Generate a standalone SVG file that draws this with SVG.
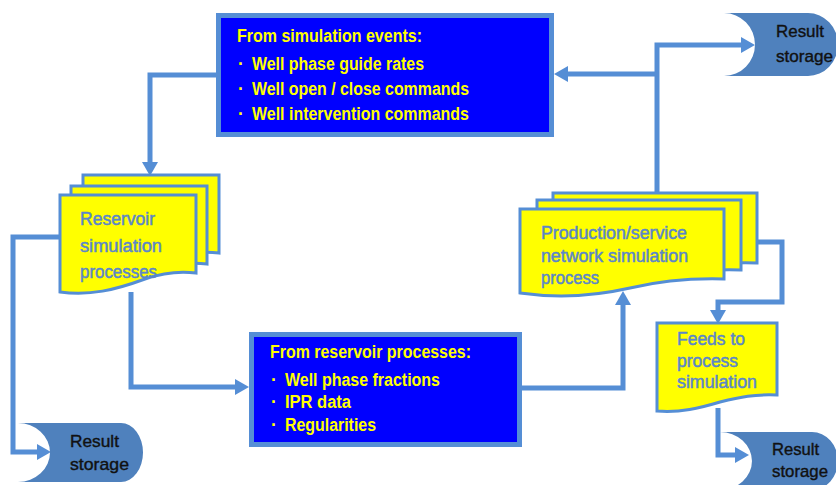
<svg xmlns="http://www.w3.org/2000/svg" width="836" height="485" viewBox="0 0 836 485">
<style>
.conn{fill:none;stroke:#558ED5;stroke-width:5;stroke-linejoin:miter}
.box{fill:#0000FF;stroke:#558ED5;stroke-width:5}
.doc{fill:#FFFF00;stroke:#558ED5;stroke-width:3}
.store{fill:#4F81BD}
.bt{font-family:"Liberation Sans Narrow","Liberation Sans",Arial,sans-serif;font-weight:bold;font-size:17.5px;fill:#FFFF00}
.dt{font-family:"Liberation Sans Narrow","Liberation Sans",Arial,sans-serif;font-size:18px;fill:#5B86C9;stroke:#5B86C9;stroke-width:0.5}
.st{font-family:"Liberation Sans Narrow","Liberation Sans",Arial,sans-serif;font-size:17px;fill:#111111;stroke:#111111;stroke-width:0.4}
</style>
<defs>
<marker id="ah" markerUnits="userSpaceOnUse" markerWidth="14" markerHeight="16" refX="0" refY="8" orient="auto" viewBox="0 0 14 16">
<path d="M0,0 L14,8 L0,16 Z" fill="#558ED5"/>
</marker>
</defs>
<g id="connectors">
<path class="conn" d="M216,75 H150 V162" marker-end="url(#ah)"/>
<path class="conn" d="M131,292 V387 H235" marker-end="url(#ah)"/>
<path class="conn" d="M60,237 H13 V452 H37" marker-end="url(#ah)"/>
<path class="conn" d="M522,388 H623 V305" marker-end="url(#ah)"/>
<path class="conn" d="M657,193 V45 H741" marker-end="url(#ah)"/>
<path class="conn" d="M657,74 H568" marker-end="url(#ah)"/>
<path class="conn" d="M757,242 H782 V302 H718 V310" marker-end="url(#ah)"/>
<path class="conn" d="M718,408 V455 H735" marker-end="url(#ah)"/>
</g>
<g id="sim-events">
<rect class="box" x="218.5" y="15.5" width="333" height="119"/>
<text class="bt" x="237" y="42" textLength="185" lengthAdjust="spacingAndGlyphs">From simulation events:</text>
<text class="bt" x="238" y="70">·</text>
<text class="bt" x="252" y="70" textLength="172" lengthAdjust="spacingAndGlyphs">Well phase guide rates</text>
<text class="bt" x="238" y="95">·</text>
<text class="bt" x="252" y="95" textLength="217" lengthAdjust="spacingAndGlyphs">Well open / close commands</text>
<text class="bt" x="238" y="120">·</text>
<text class="bt" x="252" y="120" textLength="217" lengthAdjust="spacingAndGlyphs">Well intervention commands</text>
</g>
<g id="reservoir-processes">
<rect class="box" x="251.5" y="334.5" width="268" height="110"/>
<text class="bt" x="270" y="358" textLength="201" lengthAdjust="spacingAndGlyphs">From reservoir processes:</text>
<text class="bt" x="271" y="386">·</text>
<text class="bt" x="285" y="386" textLength="155" lengthAdjust="spacingAndGlyphs">Well phase fractions</text>
<text class="bt" x="271" y="408">·</text>
<text class="bt" x="285" y="408" textLength="66" lengthAdjust="spacingAndGlyphs">IPR data</text>
<text class="bt" x="271" y="431">·</text>
<text class="bt" x="285" y="431" textLength="91" lengthAdjust="spacingAndGlyphs">Regularities</text>
</g>
<g id="reservoir-sim">
<path class="doc" transform="translate(23,-20)" d="M60,195 H196 V273 C180,271 165,272 145,279 C115,290 90,296 60,292 Z"/>
<path class="doc" transform="translate(11,-9)" d="M60,195 H196 V273 C180,271 165,272 145,279 C115,290 90,296 60,292 Z"/>
<path class="doc" d="M60,195 H196 V273 C180,271 165,272 145,279 C115,290 90,296 60,292 Z"/>
<text class="dt" x="80" y="225" textLength="75" lengthAdjust="spacingAndGlyphs">Reservoir</text>
<text class="dt" x="80" y="252" textLength="82" lengthAdjust="spacingAndGlyphs">simulation</text>
<text class="dt" x="80" y="278" textLength="77" lengthAdjust="spacingAndGlyphs">processes</text>
</g>
<g id="production-sim">
<path class="doc" transform="translate(33,-16)" d="M520,209 H724 V279 C690,278 660,281 630,288 C595,296 555,298 520,293 Z"/>
<path class="doc" transform="translate(17,-9)" d="M520,209 H724 V279 C690,278 660,281 630,288 C595,296 555,298 520,293 Z"/>
<path class="doc" d="M520,209 H724 V279 C690,278 660,281 630,288 C595,296 555,298 520,293 Z"/>
<text class="dt" x="541" y="239" textLength="146" lengthAdjust="spacingAndGlyphs">Production/service</text>
<text class="dt" x="541" y="262" textLength="147" lengthAdjust="spacingAndGlyphs">network simulation</text>
<text class="dt" x="541" y="284" textLength="58" lengthAdjust="spacingAndGlyphs">process</text>
</g>
<g id="feeds">
<path class="doc" d="M657,323 H777 V395 C755,394 740,397 720,402 C700,408 680,413 657,411 Z"/>
<text class="dt" x="677" y="345" textLength="68" lengthAdjust="spacingAndGlyphs">Feeds to</text>
<text class="dt" x="677" y="367" textLength="61" lengthAdjust="spacingAndGlyphs">process</text>
<text class="dt" x="677" y="388" textLength="80" lengthAdjust="spacingAndGlyphs">simulation</text>
</g>
<g id="storage-top">
<path class="store" d="M724,13 H808 A30,31.5 0 0 1 808,76 H724 A31,31.5 0 0 0 724,13 Z"/>
<text class="st" x="776" y="37" textLength="48" lengthAdjust="spacingAndGlyphs">Result</text>
<text class="st" x="776" y="62" textLength="57" lengthAdjust="spacingAndGlyphs">storage</text>
</g>
<g id="storage-left">
<path class="store" d="M18,423 H121 A22,29.5 0 0 1 121,482 H18 A32,29.5 0 0 0 18,423 Z"/>
<text class="st" x="70" y="447" textLength="49" lengthAdjust="spacingAndGlyphs">Result</text>
<text class="st" x="70" y="470" textLength="59" lengthAdjust="spacingAndGlyphs">storage</text>
</g>
<g id="storage-bottom-right">
<path class="store" d="M720,432 H812 A26,29 0 0 1 812,490 H720 A32,29 0 0 0 720,432 Z"/>
<text class="st" x="772" y="455" textLength="47" lengthAdjust="spacingAndGlyphs">Result</text>
<text class="st" x="772" y="477" textLength="56" lengthAdjust="spacingAndGlyphs">storage</text>
</g>
</svg>
